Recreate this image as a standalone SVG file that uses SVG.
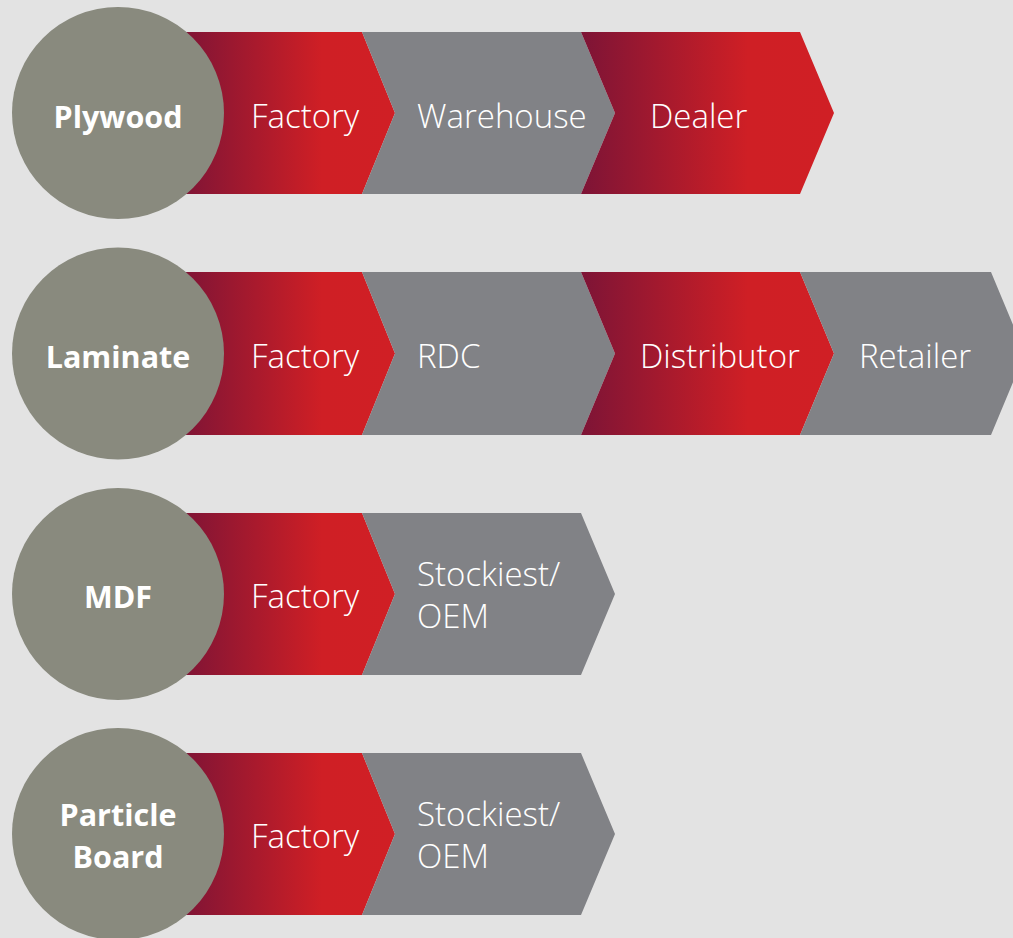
<svg xmlns="http://www.w3.org/2000/svg" width="1013" height="938" viewBox="0 0 1013 938">
<defs>
<linearGradient id="redGrad" x1="0" y1="0" x2="1" y2="0">
<stop offset="0" stop-color="#7d1436"/>
<stop offset="0.66" stop-color="#cf1f25"/>
<stop offset="1" stop-color="#d01f25"/>
</linearGradient>
<style>
.red{fill:url(#redGrad);}
.gray{fill:#818286;}
.circ{fill:#898a7e;}
.lbl{font-family:"Open Sans","Liberation Sans",sans-serif;font-weight:300;font-size:33px;fill:#ffffff;}
.head{font-family:"Open Sans","Liberation Sans",sans-serif;font-weight:700;font-size:30.5px;fill:#ffffff;text-anchor:middle;}
</style>
</defs>
<rect width="1013" height="938" fill="#e3e3e3"/>
<g id="connectors"></g>

<!-- Row 1: Plywood -->
<g id="plywood-factory"><polygon class="red" points="180,32 362,32 395,113 362,194 180,194"/><text class="lbl" x="251" y="128">Factory</text></g>
<g id="plywood-warehouse"><polygon class="gray" points="362,32 581,32 615,113 581,194 362,194 395,113"/><text class="lbl" x="417" y="128">Warehouse</text></g>
<g id="plywood-dealer"><polygon class="red" points="581,32 800,32 834,113 800,194 581,194 615,113"/><text class="lbl" x="650" y="128">Dealer</text></g>
<g id="plywood"><circle class="circ" cx="118" cy="113" r="106"/><text class="head" x="118" y="128">Plywood</text></g>

<!-- Row 2: Laminate -->
<g id="laminate-factory"><polygon class="red" points="180,272 362,272 395,353.5 362,435 180,435"/><text class="lbl" x="251" y="368">Factory</text></g>
<g id="laminate-rdc"><polygon class="gray" points="362,272 581,272 615,353.5 581,435 362,435 395,353.5"/><text class="lbl" x="417" y="368">RDC</text></g>
<g id="laminate-distributor"><polygon class="red" points="581,272 800,272 834,353.5 800,435 581,435 615,353.5"/><text class="lbl" x="640" y="368">Distributor</text></g>
<g id="laminate-retailer"><polygon class="gray" points="800,272 991,272 1025,353.5 991,435 800,435 834,353.5"/><text class="lbl" x="859" y="368">Retailer</text></g>
<g id="laminate"><circle class="circ" cx="118" cy="353.5" r="106"/><text class="head" x="118" y="368">Laminate</text></g>

<!-- Row 3: MDF -->
<g id="mdf-factory"><polygon class="red" points="180,513 362,513 395,594 362,675 180,675"/><text class="lbl" x="251" y="608">Factory</text></g>
<g id="mdf-stockiest"><polygon class="gray" points="362,513 581,513 615,594 581,675 362,675 395,594"/><text class="lbl" x="417" y="586">Stockiest/</text><text class="lbl" x="417" y="628">OEM</text></g>
<g id="mdf"><circle class="circ" cx="118" cy="594" r="106"/><text class="head" x="118" y="608">MDF</text></g>

<!-- Row 4: Particle Board -->
<g id="pb-factory"><polygon class="red" points="180,753 362,753 395,834 362,915 180,915"/><text class="lbl" x="251" y="848">Factory</text></g>
<g id="pb-stockiest"><polygon class="gray" points="362,753 581,753 615,834 581,915 362,915 395,834"/><text class="lbl" x="417" y="826">Stockiest/</text><text class="lbl" x="417" y="868">OEM</text></g>
<g id="particle-board"><circle class="circ" cx="118" cy="834" r="106"/><text class="head" x="118" y="826">Particle</text><text class="head" x="118" y="868">Board</text></g>
</svg>
